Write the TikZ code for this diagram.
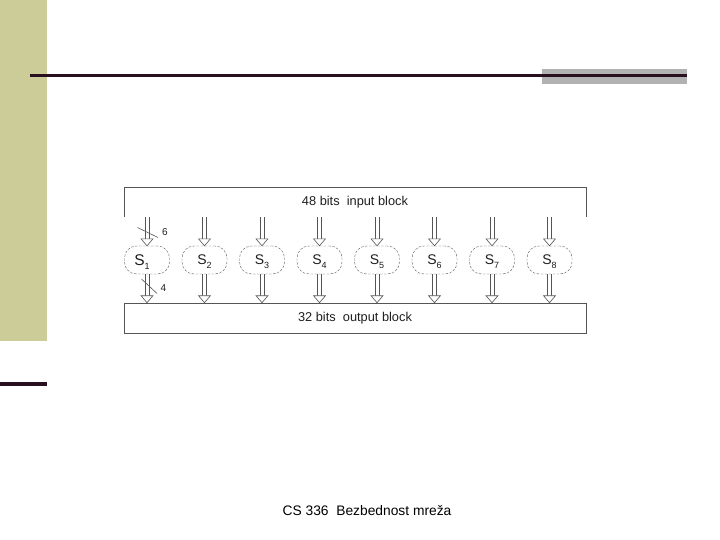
\documentclass[tikz,border=0pt]{standalone}
\usepackage{fontspec}
\setmainfont{Liberation Sans}
\usetikzlibrary{calc}
\definecolor{khaki}{RGB}{204,204,153}
\definecolor{darkline}{RGB}{40,16,32}
\definecolor{grayrect}{RGB}{178,178,178}
\definecolor{diag}{RGB}{85,85,85}
\definecolor{diagtext}{RGB}{30,30,30}
\newcommand{\sboxlbl}[1]{S\raisebox{-0.5ex}[0pt][0pt]{\fontsize{9}{10}\selectfont #1}}
\tikzset{
  block/.style={minimum width=462pt, inner sep=0pt, text=diagtext, font=\fontsize{12.8}{14}\selectfont},
  sbox/.style={draw=diag, dashed, dash pattern=on 2.5pt off 1.5pt, rounded corners=12pt, minimum width=45pt, minimum height=28pt, inner sep=0pt, text=diagtext, font=\fontsize{14}{16}\selectfont},
  shaft/.style={draw=diag, line width=0.6pt},
  head/.style={draw=diag, fill=white, line width=0.6pt, line join=miter},
  slash/.style={draw=diag, line width=0.6pt},
  numlbl/.style={text=diagtext, inner sep=0pt, font=\fontsize{10}{12}\selectfont}
}
\begin{document}
\begin{tikzpicture}[x=1pt,y=-1pt]
\useasboundingbox (0,0) rectangle (720,540);
% slide decoration
\fill[khaki] (0,0) rectangle (47,341);
\fill[grayrect] (542,69) rectangle (687,84);
\draw[darkline, line width=3pt] (30,76) -- (687,76);
\draw[darkline, line width=4pt] (0,384) -- (47,384);
% blocks
\node[block, minimum height=29pt] (in) at (355,202.5) {48 bits\ \ input block};
\draw[diag, line width=0.6pt] (in.south west) -- (in.north west) -- (in.north east) -- (in.south east);
\node[block, draw=diag, line width=0.6pt, minimum height=30pt] (out) at (355,318) {32 bits\ \ output block};
% S boxes
\node[sbox, font=\fontsize{15.5}{17}\selectfont] (s1) at (147,260) {\sboxlbl{1}\kern10pt};
\node[sbox] (s2) at (204.5,260) {\sboxlbl{2}};
\node[sbox] (s3) at (262,260) {\sboxlbl{3}};
\node[sbox] (s4) at (319.5,260) {\sboxlbl{4}};
\node[sbox] (s5) at (377,260) {\sboxlbl{5}};
\node[sbox] (s6) at (434.5,260) {\sboxlbl{6}};
\node[sbox] (s7) at (492,260) {\sboxlbl{7}};
\node[sbox] (s8) at (549.5,260) {\sboxlbl{8}};
% arrows
\foreach \i in {1,...,8} {
  \coordinate (a\i) at (s\i |- in.south);
  \coordinate (b\i) at (s\i |- out.north);
  \draw[shaft] ($(a\i)+(-1.8pt,0pt)$) -- ($(s\i.north)+(-1.8pt,7pt)$);
  \draw[shaft] ($(a\i)+(1.8pt,0pt)$) -- ($(s\i.north)+(1.8pt,7pt)$);
  \draw[head] ($(s\i.north)+(-6pt,7pt)$) -- (s\i.north) -- ($(s\i.north)+(6pt,7pt)$) -- cycle;
  \draw[shaft] ($(s\i.south)+(-1.8pt,0pt)$) -- ($(b\i)+(-1.8pt,7pt)$);
  \draw[shaft] ($(s\i.south)+(1.8pt,0pt)$) -- ($(b\i)+(1.8pt,7pt)$);
  \draw[head] ($(b\i)+(-6pt,7pt)$) -- (b\i) -- ($(b\i)+(6pt,7pt)$) -- cycle;
}
% bit-width marks
\draw[slash] (137.5,227.5) -- (158,237.5);
\node[numlbl] (n6) at (165,232.5) {6};
\draw[slash] (141.5,279) -- (157,293.5);
\node[numlbl] (n4) at (163.5,288) {4};
% footer
\node[inner sep=0pt, font=\fontsize{13.8}{16}\selectfont] (foot) at (367,511) {CS 336\ \ Bezbednost mreža};
\end{tikzpicture}
\end{document}
